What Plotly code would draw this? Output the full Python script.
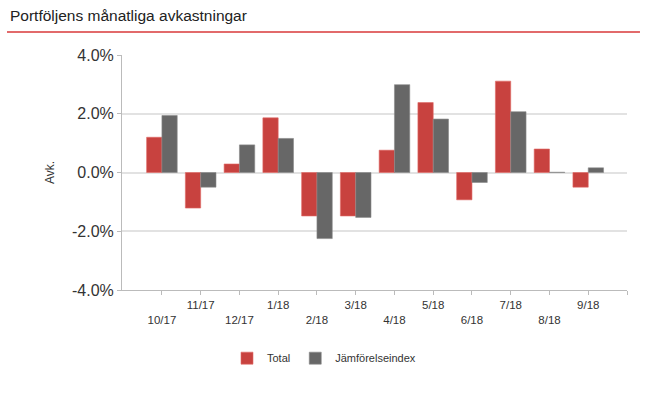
import plotly.graph_objects as go

months = ["10/17", "11/17", "12/17", "1/18", "2/18", "3/18", "4/18", "5/18", "6/18", "7/18", "8/18", "9/18"]
total = [1.20, -1.21, 0.29, 1.86, -1.48, -1.48, 0.76, 2.38, -0.93, 3.11, 0.80, -0.50]
jamfor = [1.94, -0.50, 0.94, 1.16, -2.25, -1.53, 2.99, 1.82, -0.34, 2.07, 0.01, 0.16]
y_ticks = [-4, -2, 0, 2, 4]

x = list(range(len(months)))
# alternate label rows: odd index on first row, even index on second row
tick_text = [("<br>" + m) if i % 2 == 0 else m for i, m in enumerate(months)] + [""]

RED = "#c8423f"
GREY = "#676767"

fig = go.Figure()
fig.add_trace(go.Bar(x=x, y=total, name="Total", marker=dict(color=RED, line=dict(color="#e06a66", width=0.6))))
fig.add_trace(go.Bar(x=x, y=jamfor, name="Jämförelseindex", marker=dict(color=GREY, line=dict(color="#8a8a8a", width=0.6))))

fig.update_layout(
    width=665, height=399,
    margin=dict(l=122, r=38, t=55, b=109),
    paper_bgcolor="white", plot_bgcolor="white",
    barmode="group", bargap=0.21, bargroupgap=0,
    font=dict(family="Liberation Sans, Arial, sans-serif", color="#333333"),
    title=dict(text="Portföljens månatliga avkastningar", x=0.015, xanchor="left",
               y=0.962, yanchor="middle", font=dict(size=15.5, color="#222222")),
    showlegend=True,
    legend=dict(orientation="h", x=0.40, xanchor="center", y=-0.29, yanchor="middle",
                font=dict(size=11, color="#333333"), itemwidth=30),
    shapes=[dict(type="line", xref="paper", yref="paper", x0=-0.2277, x1=1.0257, y0=1.098, y1=1.098,
                 line=dict(color="#d9393a", width=1.5))],
)

fig.update_xaxes(
    range=[-1.03, 12], tickmode="array", tickvals=x + [12], ticktext=tick_text,
    showgrid=False, showline=True, linecolor="#bbbbbb", linewidth=1,
    ticks="outside", ticklen=4, tickcolor="#bbbbbb",
    tickfont=dict(size=11.5, color="#333333"), zeroline=False, automargin=False,
)
fig.update_yaxes(
    range=[-4, 4], tickmode="array", tickvals=y_ticks,
    ticktext=[f"{v:.1f}%" for v in y_ticks],
    showgrid=True, gridcolor="#e2e2e2", gridwidth=1.5,
    showline=True, linecolor="#bbbbbb", linewidth=1,
    ticks="outside", ticklen=4, tickcolor="#bbbbbb",
    tickfont=dict(size=16, color="#333333"),
    zeroline=True, zerolinecolor="#e2e2e2", zerolinewidth=1.5,
    title=dict(text="Avk.", font=dict(size=12, color="#333333"), standoff=14),
    automargin=False,
)

fig.write_html("out.html", config={"displayModeBar": False},
               post_script="document.body.style.margin='0';")
